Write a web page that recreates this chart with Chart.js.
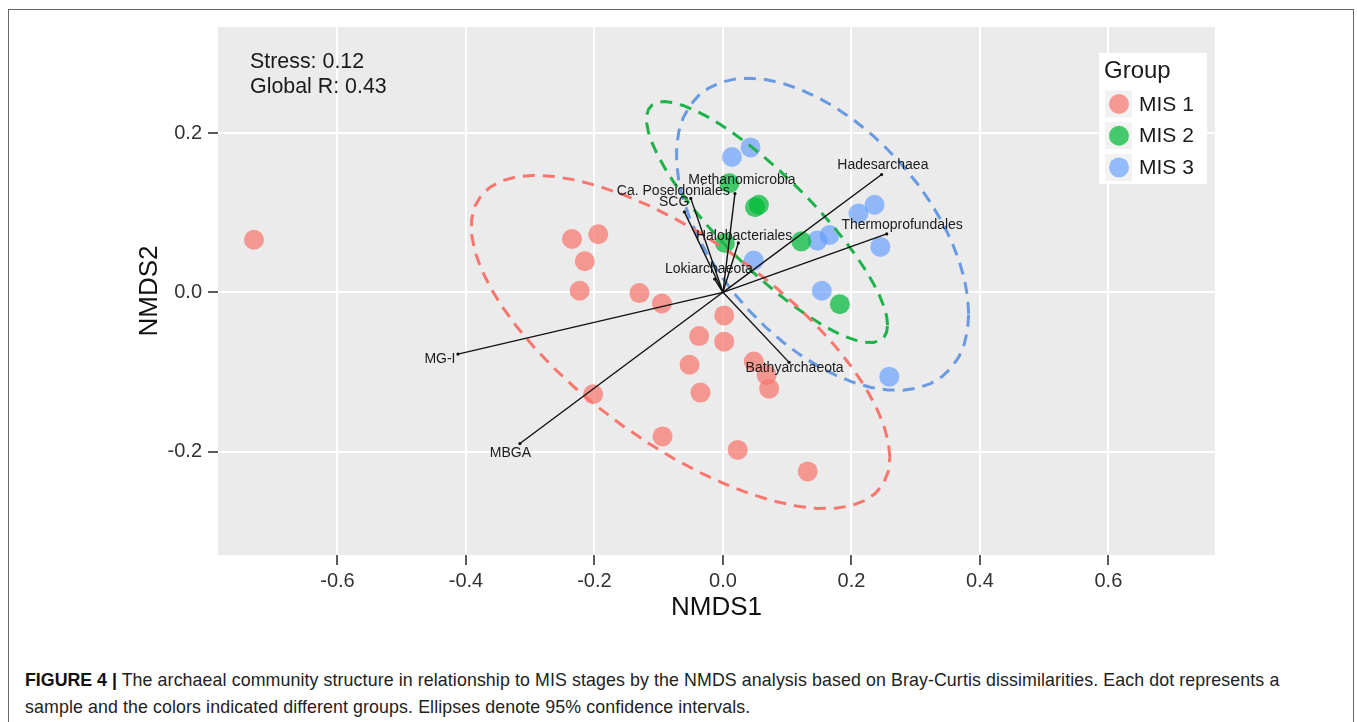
<!DOCTYPE html>
<html>
<head>
<meta charset="utf-8">
<script src="https://cdn.jsdelivr.net/npm/chart.js@4.4.1/dist/chart.umd.min.js"></script>
<style>
  html, body { margin: 0; padding: 0; background: #ffffff; width: 1357px; height: 722px; overflow: hidden; }
  #frame { position: absolute; left: 8px; top: 9px; width: 1346px; height: 760px; border: 1px solid #666; box-sizing: border-box; }
  #wrap { position: absolute; left: 0; top: 0; width: 1357px; height: 640px; }
  #caption { position: absolute; left: 25px; top: 667px; width: 1320px; font-family: 'Liberation Sans', Arial, sans-serif; font-size: 17.8px; letter-spacing: 0.1px; line-height: 27px; color: #222; white-space: nowrap; }
  #caption b { color: #111; letter-spacing: 0; }
</style>
</head>
<body>
<div id="frame"></div>
<div id="wrap"><canvas id="c" width="1357" height="640"></canvas></div>
<div id="caption"><b>FIGURE 4 |</b> The archaeal community structure in relationship to MIS stages by the NMDS analysis based on Bray-Curtis dissimilarities. Each dot represents a<br>sample and the colors indicated different groups. Ellipses denote 95% confidence intervals.</div>
<script>
// ---------------- data ----------------
const groupNames = ['MIS 1', 'MIS 2', 'MIS 3'];

const mis1X = [-0.730, -0.235, -0.194, -0.215, -0.223, -0.130, -0.095, 0.002, -0.037, 0.002, -0.052, 0.048, 0.068, 0.072, -0.035, -0.202, -0.094, 0.023, 0.132];
const mis1Y = [0.066, 0.067, 0.073, 0.039, 0.002, -0.001, -0.014, -0.029, -0.055, -0.062, -0.091, -0.087, -0.104, -0.121, -0.126, -0.128, -0.181, -0.198, -0.225];

const mis2X = [0.010, 0.050, 0.056, 0.003, 0.122, 0.182];
const mis2Y = [0.137, 0.107, 0.110, 0.062, 0.064, -0.015];

const mis3X = [0.014, 0.043, 0.211, 0.236, 0.147, 0.166, 0.245, 0.048, 0.154, 0.259];
const mis3Y = [0.170, 0.182, 0.099, 0.110, 0.065, 0.072, 0.057, 0.040, 0.002, -0.106];

const vectorNames = ['MG-I', 'MBGA', 'Bathyarchaeota', 'Hadesarchaea', 'Thermoprofundales', 'Methanomicrobia', 'Ca. Poseidoniales', 'SCG', 'Halobacteriales', 'Lokiarchaeota'];
const vectorX = [-0.4125, -0.316, 0.103, 0.247, 0.255, 0.0187, -0.050, -0.060, 0.024, -0.013];
const vectorY = [-0.0776, -0.190, -0.088, 0.148, 0.0734, 0.124, 0.118, 0.101, 0.062, 0.0167];
const vectorLabelX = [-0.4405, -0.3307, 0.1116, 0.249, 0.279, 0.0296, -0.0773, -0.076, 0.033, -0.0218];
const vectorLabelY = [-0.0838, -0.2023, -0.0955, 0.1603, 0.0842, 0.1415, 0.1276, 0.1134, 0.0703, 0.0296];

const xTicks = [-0.6, -0.4, -0.2, 0.0, 0.2, 0.4, 0.6];
const xTickLabels = ['-0.6', '-0.4', '-0.2', '0.0', '0.2', '0.4', '0.6'];
const yTicks = [-0.2, 0.0, 0.2];
const yTickLabels = ['-0.2', '0.0', '0.2'];

const statLines = ['Stress: 0.12', 'Global R: 0.43'];

// ---------------- styling ----------------
const FONT = "'Liberation Sans', Arial, Helvetica, sans-serif";
const pointColors = ['rgba(248,118,109,0.72)', 'rgba(0,186,56,0.72)', 'rgba(97,156,255,0.66)'];
const ellipseColors = ['#F8766D', '#1DB34A', '#6A9BE2'];

// ---------------- stat_ellipse (type = "t", level = 0.95) ----------------
function covTrob(xs, ys, nu = 5, maxit = 25, tol = 0.01) {
  const n = xs.length, p = 2;
  let loc = [xs.reduce((a, b) => a + b, 0) / n, ys.reduce((a, b) => a + b, 0) / n];
  let w = new Array(n).fill(1);
  let X = null;
  for (let iter = 0; iter < maxit; iter++) {
    const w0 = w.slice();
    X = xs.map((x, i) => [x - loc[0], ys[i] - loc[1]]);
    const sw = w.reduce((a, b) => a + b, 0);
    let a = 0, b = 0, d = 0;
    for (let i = 0; i < n; i++) {
      const f = w[i] / sw;
      a += f * X[i][0] * X[i][0];
      b += f * X[i][0] * X[i][1];
      d += f * X[i][1] * X[i][1];
    }
    const det = a * d - b * b;
    const Q = X.map(v => (d * v[0] * v[0] - 2 * b * v[0] * v[1] + a * v[1] * v[1]) / det);
    w = Q.map(q => (nu + p) / (nu + q));
    const sw2 = w.reduce((s, v) => s + v, 0);
    loc = [xs.reduce((s, x, i) => s + w[i] * x, 0) / sw2, ys.reduce((s, y, i) => s + w[i] * y, 0) / sw2];
    if (w.every((v, i) => Math.abs(v - w0[i]) < tol)) break;
  }
  let a = 0, b = 0, d = 0;
  for (let i = 0; i < n; i++) {
    a += w[i] * X[i][0] * X[i][0];
    b += w[i] * X[i][0] * X[i][1];
    d += w[i] * X[i][1] * X[i][1];
  }
  return { center: loc, cov: [a / n, b / n, d / n] };
}
function ellipsePoints(xs, ys, level = 0.95, segments = 51) {
  const n = xs.length;
  const dfd = n - 1;
  const qf = (dfd / 2) * (Math.pow(1 - level, -2 / dfd) - 1); // F(2, dfd) quantile
  const radius = Math.sqrt(2 * qf);
  const { center, cov } = covTrob(xs, ys);
  const r11 = Math.sqrt(cov[0]);
  const r12 = cov[1] / r11;
  const r22 = Math.sqrt(cov[2] - r12 * r12);
  const out = [];
  for (let k = 0; k <= segments; k++) {
    const t = k * 2 * Math.PI / segments;
    const c = Math.cos(t), s = Math.sin(t);
    out.push({ x: center[0] + radius * c * r11, y: center[1] + radius * (c * r12 + s * r22) });
  }
  return out;
}

const groupX = [mis1X, mis2X, mis3X];
const groupY = [mis1Y, mis2Y, mis3Y];
const toPts = (xs, ys) => xs.map((x, i) => ({ x, y: ys[i] }));

const datasets = [];
// arrows (top)
vectorNames.forEach((name, i) => {
  datasets.push({
    label: name, type: 'scatter', showLine: true,
    data: [{ x: 0, y: 0 }, { x: vectorX[i], y: vectorY[i] }],
    borderColor: '#111', borderWidth: 1.4,
    pointRadius: [0, 1.6], pointBackgroundColor: '#111', pointBorderWidth: 0,
    order: 0
  });
});
// ellipses
groupNames.forEach((g, k) => {
  datasets.push({
    label: g + ' ellipse', type: 'scatter', showLine: true,
    data: ellipsePoints(groupX[k], groupY[k]),
    borderColor: ellipseColors[k], borderWidth: 3, borderDash: [12, 8],
    pointRadius: 0, fill: false, order: 1
  });
});
// points (bottom)
groupNames.forEach((g, k) => {
  datasets.push({
    label: g, type: 'scatter', isGroup: true,
    data: toPts(groupX[k], groupY[k]),
    backgroundColor: pointColors[k], borderWidth: 0,
    pointRadius: 10, pointBorderWidth: 0, order: 2 + k
  });
});

// ---------------- plugins ----------------
const panelBg = {
  id: 'panelBg',
  beforeDraw(chart) {
    const { ctx, chartArea: a } = chart;
    ctx.save();
    ctx.fillStyle = '#EBEBEB';
    ctx.fillRect(a.left, a.top, a.right - a.left, a.bottom - a.top);
    ctx.restore();
  }
};

const overlay = {
  id: 'overlay',
  afterDatasetsDraw(chart) {
    const { ctx, chartArea: a, scales } = chart;
    ctx.save();
    // vector labels
    ctx.font = '14px ' + FONT;
    ctx.fillStyle = '#1a1a1a';
    ctx.textAlign = 'center';
    ctx.textBaseline = 'middle';
    vectorNames.forEach((name, i) => {
      ctx.fillText(name, scales.x.getPixelForValue(vectorLabelX[i]), scales.y.getPixelForValue(vectorLabelY[i]));
    });
    // stress text
    ctx.font = '21.4px ' + FONT;
    ctx.textAlign = 'left';
    ctx.textBaseline = 'alphabetic';
    ctx.fillStyle = '#1a1a1a';
    statLines.forEach((t, i) => ctx.fillText(t, a.left + 32, a.top + 41 + i * 25));
    // legend
    const lx = a.right - 116, ly = a.top + 26, lw = 108, lh = 131;
    ctx.fillStyle = '#ffffff';
    ctx.fillRect(lx, ly, lw, lh);
    ctx.fillStyle = '#1a1a1a';
    ctx.font = '24px ' + FONT;
    ctx.textBaseline = 'middle';
    ctx.fillText('Group', lx + 5, ly + 18);
    const groupSets = chart.data.datasets.filter(d => d.isGroup);
    groupSets.forEach((d, k) => {
      const cy = ly + 51 + k * 31.7;
      ctx.fillStyle = '#F2F2F2';
      ctx.fillRect(lx + 6, cy - 13.5, 27, 27);
      ctx.fillStyle = d.backgroundColor;
      ctx.beginPath();
      ctx.arc(lx + 20, cy, 10, 0, Math.PI * 2);
      ctx.fill();
      ctx.fillStyle = '#1a1a1a';
      ctx.font = '21px ' + FONT;
      ctx.fillText(d.label, lx + 40, cy + 1);
    });
    ctx.restore();
  }
};

Chart.defaults.font.family = FONT;

new Chart(document.getElementById('c'), {
  type: 'scatter',
  data: { datasets },
  options: {
    responsive: false,
    animation: false,
    events: [],
    layout: { padding: { top: 27, right: 142, left: 0, bottom: 0 } },
    plugins: { legend: { display: false }, tooltip: { enabled: false } },
    scales: {
      x: {
        type: 'linear', min: -0.786, max: 0.766,
        afterBuildTicks(s) { s.ticks = xTicks.map(v => ({ value: v })); },
        afterFit(s) { s.height = 85; },
        border: { display: false },
        grid: { color: '#ffffff', lineWidth: 2, tickColor: '#333', tickWidth: 1.6, tickLength: 10, drawTicks: true },
        ticks: { color: '#333', font: { size: 20 }, padding: 4, maxRotation: 0,
          callback(v, i) { return xTickLabels[i]; } },
        title: { display: true, text: 'NMDS1', color: '#111', font: { size: 26 }, padding: { top: 0, bottom: 17 } }
      },
      y: {
        type: 'linear', min: -0.330, max: 0.3333,
        afterBuildTicks(s) { s.ticks = yTicks.map(v => ({ value: v })); },
        afterFit(s) { s.width = 218; },
        border: { display: false },
        grid: { color: '#ffffff', lineWidth: 2, tickColor: '#333', tickWidth: 1.6, tickLength: 10, drawTicks: true },
        ticks: { color: '#333', font: { size: 20 }, padding: 6,
          callback(v, i) { return yTickLabels[i]; } },
        title: { display: true, text: 'NMDS2', color: '#111', font: { size: 26 }, padding: { top: 134, bottom: 0 } }
      }
    }
  },
  plugins: [panelBg, overlay]
});
</script>
</body>
</html>
